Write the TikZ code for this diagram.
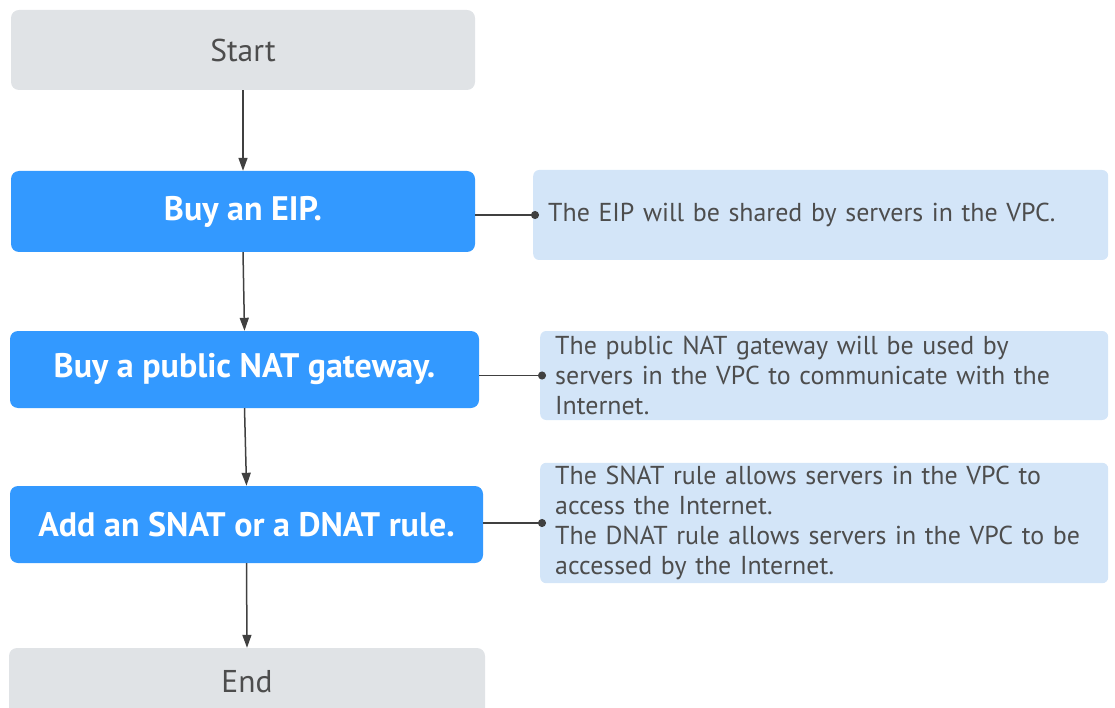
\documentclass[tikz,border=0pt]{standalone}
\usepackage{fontspec}
\setmainfont{PT Sans}
\usetikzlibrary{positioning, arrows.meta, calc}

\definecolor{stepgray}{HTML}{E0E3E6}
\definecolor{stepblue}{HTML}{3399FF}
\definecolor{noteblue}{HTML}{D3E5F8}
\definecolor{textgray}{HTML}{4D4D4D}
\definecolor{linegray}{HTML}{404040}

\begin{document}
\begin{tikzpicture}[x=1pt, y=-1pt,
    every node/.style={font=\fontsize{25.9}{30}\selectfont},
    endbox/.style={rectangle, rounded corners=8pt, fill=stepgray, text=textgray,
        font=\fontsize{31.5}{36}\selectfont},
    stepbox/.style={rectangle, rounded corners=8pt, fill=stepblue, text=white,
        font=\fontsize{34}{38}\selectfont\bfseries},
    notebox/.style={rectangle, rounded corners=6pt, fill=noteblue, text=textgray,
        align=left, anchor=west, inner xsep=15pt},
    flow/.style={draw=linegray, line width=1.5pt, -{Triangle[length=13pt, width=9pt]}},
    link/.style={draw=linegray, line width=1.5pt, -{Circle[length=8pt]}}]

    \useasboundingbox (0,0) rectangle (1115,708);

    % main steps
    \node[endbox, minimum width=464pt, minimum height=80pt] (start) at (243,50) {Start};
    \node[stepbox, minimum width=464pt, minimum height=81pt] (eip) at (243,211.5) {Buy an EIP.};
    \node[stepbox, minimum width=469pt, minimum height=77pt] (nat) at (244.5,369.5) {Buy a public NAT gateway.};
    \node[stepbox, minimum width=473pt, minimum height=77pt] (rule) at (246.5,524.5) {Add an SNAT or a DNAT rule.};
    \node[endbox, minimum width=476pt, minimum height=68pt] (end) at (247,682) {End};

    % notes
    \node[notebox, text width=545pt, minimum height=90pt] (eipnote) at (533,215)
        {The EIP will be shared by servers in the VPC.};
    \node[notebox, text width=538pt, minimum height=89pt] (natnote) at (540,375.5)
        {The public NAT gateway will be used by\\servers in the VPC to communicate with the\\Internet.};
    \node[notebox, text width=538pt, minimum height=110pt] (rulenote) at (540,523)
        {The SNAT rule allows servers in the VPC to\\access the Internet.\\The DNAT rule allows servers in the VPC to be\\accessed by the Internet.};

    % arrows between steps
    \foreach \a/\b in {start/eip, eip/nat, nat/rule, rule/end}
    {
        \draw[flow] (\a.south) -- (\b.north);
    }

    % links to notes
    \foreach \a/\b in {eip/eipnote, nat/natnote, rule/rulenote}
    {
        \draw[link] (\a.east |- \b.west) -- ([xshift=6pt]\b.west);
    }
\end{tikzpicture}
\end{document}
